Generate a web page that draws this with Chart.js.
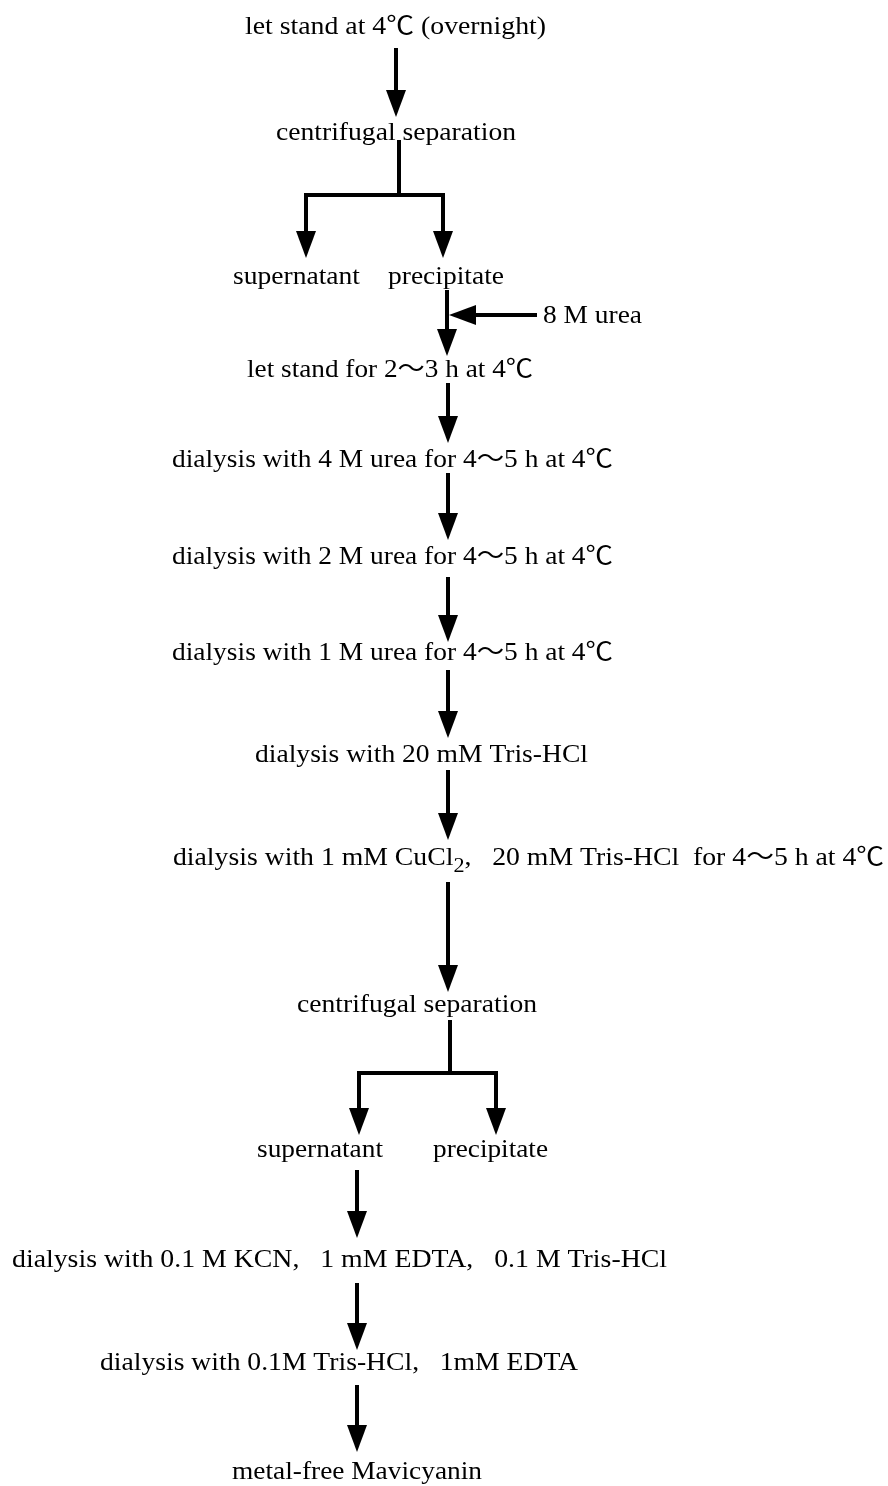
<!DOCTYPE html>
<html>
<head>
<meta charset="utf-8">
<script src="https://cdn.jsdelivr.net/npm/chart.js@4/dist/chart.umd.min.js"></script>
<style>
  html, body { margin: 0; background: #fff; }
  #wrap { width: 888px; height: 1486px; position: relative; }
</style>
</head>
<body>
<div id="wrap"><canvas id="flow"></canvas></div>
<script>
// flow steps, top to bottom ({..} = subscript)
const stepText = [
  "let stand at 4\u2103 (overnight)",
  "centrifugal separation",
  "supernatant",
  "precipitate",
  "8 M urea",
  "let stand for 2\uFF5E3 h at 4\u2103",
  "dialysis with 4 M urea for 4\uFF5E5 h at 4\u2103",
  "dialysis with 2 M urea for 4\uFF5E5 h at 4\u2103",
  "dialysis with 1 M urea for 4\uFF5E5 h at 4\u2103",
  "dialysis with 20 mM Tris-HCl",
  "dialysis with 1 mM CuCl{2},   20 mM Tris-HCl  for 4\uFF5E5 h at 4\u2103",
  "centrifugal separation",
  "supernatant",
  "precipitate",
  "dialysis with 0.1 M KCN,   1 mM EDTA,   0.1 M Tris-HCl",
  "dialysis with 0.1M Tris-HCl,   1mM EDTA",
  "metal-free Mavicyanin"
];

// layout: left edge, right edge, middle y of each step label
const labelLeft  = [245, 276, 233, 388, 543, 247, 172, 172, 172, 255, 173, 297, 257, 433, 12, 100, 232];
const labelRight = [546, 516, 360, 504, 642, 533, 613, 613, 613, 588, 884, 537, 383, 548, 667, 578, 482];
const labelY     = [27, 133, 277, 277, 316, 370, 460, 557, 653, 755, 858, 1005, 1150, 1150, 1260, 1363, 1472];

// arrows [x1, y1, x2, y2], head at the second point
const arrows = [
  [396, 48, 396, 117],
  [306, 195, 306, 258],
  [443, 195, 443, 258],
  [447, 290, 447, 356],
  [537, 315, 449, 315],
  [448, 383, 448, 443],
  [448, 473, 448, 540],
  [448, 577, 448, 642],
  [448, 670, 448, 738],
  [448, 770, 448, 840],
  [448, 882, 448, 992],
  [359, 1073, 359, 1135],
  [496, 1073, 496, 1135],
  [357, 1170, 357, 1238],
  [357, 1283, 357, 1350],
  [357, 1385, 357, 1452]
];
// branch connectors without heads
const connectors = [
  [399, 142, 399, 195],
  [306, 195, 443, 195],
  [450, 1022, 450, 1073],
  [359, 1073, 496, 1073]
];

const HEAD_W = 20, HEAD_L = 27, LINE_W = 4;
const FONT = '"Liberation Serif", "Noto Sans CJK JP", serif';
const FONT_PX = 25;

// arrow head drawn once, pointing down
const head = document.createElement("canvas");
head.width = HEAD_W; head.height = HEAD_L;
const hctx = head.getContext("2d");
hctx.fillStyle = "#000";
hctx.beginPath();
hctx.moveTo(0, 0); hctx.lineTo(HEAD_W, 0); hctx.lineTo(HEAD_W / 2, HEAD_L);
hctx.closePath(); hctx.fill();

const datasets = [];
connectors.forEach(c => {
  datasets.push({
    data: [{x: c[0], y: c[1]}, {x: c[2], y: c[3]}],
    showLine: true, borderColor: "#000", borderWidth: LINE_W,
    borderCapStyle: "square", pointRadius: 0
  });
});
arrows.forEach(a => {
  const len = Math.hypot(a[2] - a[0], a[3] - a[1]);
  const ux = (a[2] - a[0]) / len, uy = (a[3] - a[1]) / len;
  datasets.push({
    data: [{x: a[0], y: a[1]}, {x: a[2] - ux * (HEAD_L - 4), y: a[3] - uy * (HEAD_L - 4)}],
    showLine: true, borderColor: "#000", borderWidth: LINE_W,
    borderCapStyle: "butt", pointRadius: 0
  });
  datasets.push({
    data: [{x: a[2] - ux * HEAD_L / 2, y: a[3] - uy * HEAD_L / 2}],
    showLine: false, pointStyle: head, pointRadius: 10,
    rotation: Math.atan2(-ux, uy) * 180 / Math.PI
  });
});

// step labels, stretched to their measured width
const stepLabels = {
  id: "stepLabels",
  afterDatasetsDraw(chart) {
    const {ctx, scales: {x, y}} = chart;
    ctx.save();
    ctx.fillStyle = "#000";
    ctx.textBaseline = "middle";
    stepText.forEach((t, i) => {
      const parts = t.split(/(\{[^}]*\})/).filter(s => s.length);
      const fonts = parts.map(p => p[0] === "{" ? (FONT_PX * 0.8) + "px " + FONT : FONT_PX + "px " + FONT);
      const texts = parts.map(p => p[0] === "{" ? p.slice(1, -1) : p);
      let w = 0;
      texts.forEach((s, k) => { ctx.font = fonts[k]; w += ctx.measureText(s).width; });
      const left = x.getPixelForValue(labelLeft[i]);
      const right = x.getPixelForValue(labelRight[i]);
      const sx = (right - left) / w;
      ctx.save();
      ctx.translate(left, y.getPixelForValue(labelY[i]));
      ctx.scale(sx, 1);
      let cx = 0;
      texts.forEach((s, k) => {
        ctx.font = fonts[k];
        const dy = parts[k][0] === "{" ? FONT_PX * 0.35 : 0;
        ctx.fillText(s, cx, dy);
        cx += ctx.measureText(s).width;
      });
      ctx.restore();
    });
    ctx.restore();
  }
};

new Chart(document.getElementById("flow"), {
  type: "scatter",
  data: { datasets },
  options: {
    responsive: true,
    maintainAspectRatio: false,
    animation: false,
    layout: { padding: 0, autoPadding: false },
    plugins: { legend: { display: false }, tooltip: { enabled: false } },
    scales: {
      x: { type: "linear", min: 0, max: 888, display: false },
      y: { type: "linear", min: 0, max: 1486, reverse: true, display: false }
    }
  },
  plugins: [stepLabels]
});
</script>
</body>
</html>
